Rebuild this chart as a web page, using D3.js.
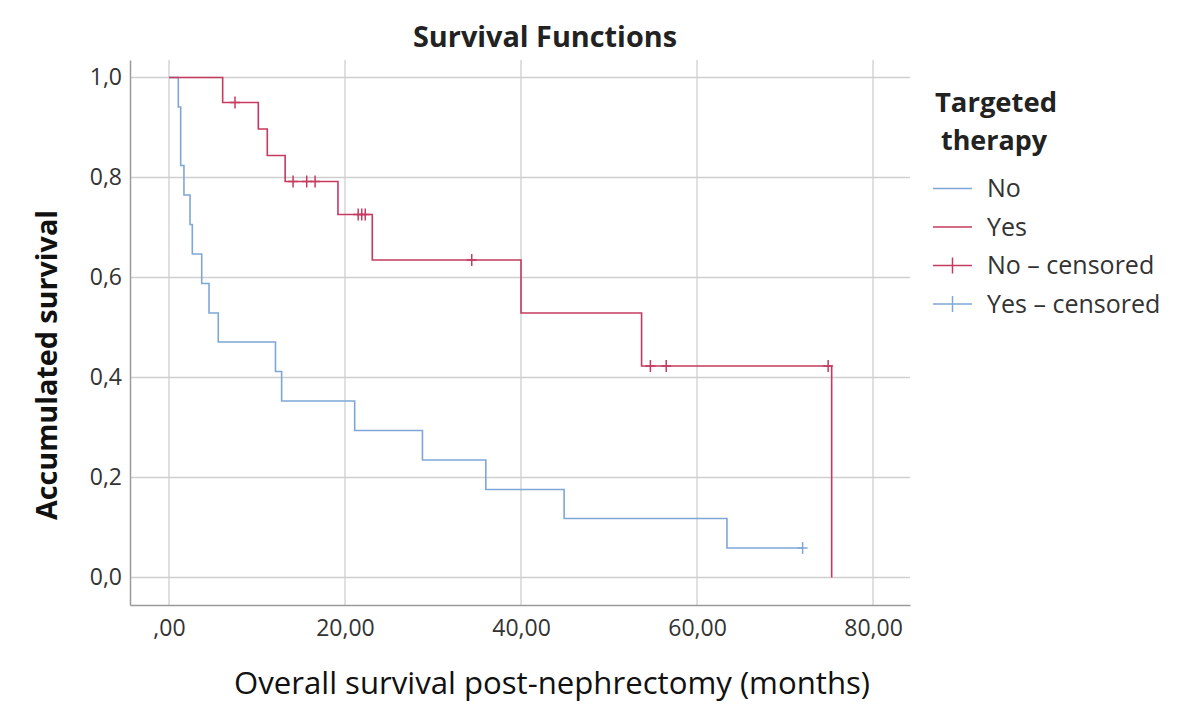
<!DOCTYPE html>
<html><head><meta charset="utf-8">
<script src="https://cdn.jsdelivr.net/npm/d3@7"></script>
<style>body{margin:0;background:#fff}text{font-family:"Open Sans",sans-serif}</style>
</head><body>
<svg id="c" width="1200" height="715"></svg>
<script>
// Step curves (time in months, cumulative survival)
const noTimes = [0, 1.06, 1.33, 1.70, 2.39, 2.65, 3.72, 4.55, 5.6, 12.1, 12.8, 21.1, 28.8, 36.0, 44.9, 63.4];
const noSurv  = [1.0, 0.941, 0.824, 0.765, 0.706, 0.647, 0.588, 0.529, 0.471, 0.412, 0.353, 0.294, 0.235, 0.176, 0.118, 0.059];
const noEnd = 72.0;
const noCensTimes = [72.0];
const noCensSurv  = [0.059];

const yesTimes = [0, 6.1, 10.15, 11.17, 13.2, 19.2, 23.1, 40.0, 53.7, 75.3];
const yesSurv  = [1.0, 0.95, 0.897, 0.844, 0.792, 0.726, 0.635, 0.529, 0.423, 0.0];
const yesEnd = 75.3;
const yesCensTimes = [7.5, 14.1, 15.65, 16.6, 21.5, 21.9, 22.3, 34.4, 54.7, 56.5, 74.9];
const yesCensSurv  = [0.95, 0.792, 0.792, 0.792, 0.726, 0.726, 0.726, 0.635, 0.423, 0.423, 0.423];

const xTicks = [0, 20, 40, 60, 80];
const xTickLabels = [",00", "20,00", "40,00", "60,00", "80,00"];
const yTicks = [0, 0.2, 0.4, 0.6, 0.8, 1.0];
const yTickLabels = ["0,0", "0,2", "0,4", "0,6", "0,8", "1,0"];
const legendLabels = ["No", "Yes", "No \u2013 censored", "Yes \u2013 censored"];

const BLUE = "#7ea6d6", RED = "#c53a5f";
const svg = d3.select("#c");
const L = 130, R = 910, T = 60, B = 605;
const x = d3.scaleLinear().domain([-4.43, 84.2]).range([L, R]);
const y = d3.scaleLinear().domain([-0.055, 1.035]).range([B, T]);

// gridlines
svg.append("g").selectAll("line").data(yTicks).join("line")
  .attr("x1", L).attr("x2", R).attr("y1", d => y(d)).attr("y2", d => y(d))
  .attr("stroke", "#cfcfcf").attr("stroke-width", 1.3);
svg.append("g").selectAll("line").data(xTicks).join("line")
  .attr("y1", T).attr("y2", B).attr("x1", d => x(d)).attr("x2", d => x(d))
  .attr("stroke", "#cfcfcf").attr("stroke-width", 1.3);

// axes
const xAxis = d3.axisBottom(x).tickValues(xTicks).tickFormat((d, i) => xTickLabels[i]).tickSize(0).tickPadding(15);
const gx = svg.append("g").attr("transform", `translate(0,${B})`).call(xAxis);
gx.select(".domain").attr("stroke", "#9a9a9a").attr("stroke-width", 1.5);
gx.selectAll("text").attr("font-size", 23).attr("fill", "#333").style("font-family", "Open Sans");
const yAxis = d3.axisLeft(y).tickValues(yTicks).tickFormat((d, i) => yTickLabels[i]).tickSize(0).tickPadding(8);
const gy = svg.append("g").attr("transform", `translate(${L},0)`).call(yAxis);
gy.select(".domain").attr("stroke", "#9a9a9a").attr("stroke-width", 1.5);
gy.selectAll("text").attr("font-size", 23).attr("fill", "#333").style("font-family", "Open Sans");

// step lines
function stepPts(times, surv, end) {
  const pts = times.map((t, i) => [t, surv[i]]);
  pts.push([end, surv[surv.length - 1]]);
  return pts;
}
const line = d3.line().x(d => x(d[0])).y(d => y(d[1])).curve(d3.curveStepAfter);
svg.append("path").datum(stepPts(noTimes, noSurv, noEnd)).attr("d", line)
  .attr("fill", "none").attr("stroke", BLUE).attr("stroke-width", 1.6);
svg.append("path").datum(stepPts(yesTimes, yesSurv, yesEnd)).attr("d", line)
  .attr("fill", "none").attr("stroke", RED).attr("stroke-width", 1.6);

function censor(times, surv, col) {
  const g = svg.append("g").attr("stroke", col).attr("stroke-width", 1.5);
  times.forEach((t, i) => {
    g.append("line").attr("x1", x(t)).attr("x2", x(t)).attr("y1", y(surv[i]) - 6).attr("y2", y(surv[i]) + 6);
    g.append("line").attr("x1", x(t) - 5).attr("x2", x(t) + 5).attr("y1", y(surv[i])).attr("y2", y(surv[i]));
  });
}
censor(yesCensTimes, yesCensSurv, RED);
censor(noCensTimes, noCensSurv, BLUE);

// title
svg.append("text").attr("x", 545).attr("y", 47).attr("text-anchor", "middle")
  .attr("font-size", 28).attr("font-weight", "bold").attr("fill", "#222")
  .attr("textLength", 264).attr("lengthAdjust", "spacingAndGlyphs").text("Survival Functions");
// axis titles
svg.append("text").attr("x", 552).attr("y", 694).attr("text-anchor", "middle")
  .attr("font-size", 31).attr("fill", "#111").attr("textLength", 636).attr("lengthAdjust", "spacingAndGlyphs")
  .text("Overall survival post-nephrectomy (months)");
svg.append("text").attr("transform", "translate(57,365) rotate(-90)").attr("text-anchor", "middle")
  .attr("font-size", 28).attr("font-weight", "bold").attr("fill", "#111")
  .attr("textLength", 310).attr("lengthAdjust", "spacingAndGlyphs")
  .text("Accumulated survival");

// legend
const lg = svg.append("g");
lg.append("text").attr("x", 935).attr("y", 112).attr("font-size", 26).attr("font-weight", "bold").attr("fill", "#222")
  .attr("textLength", 122).attr("lengthAdjust", "spacingAndGlyphs").text("Targeted");
lg.append("text").attr("x", 941).attr("y", 150).attr("font-size", 26).attr("font-weight", "bold").attr("fill", "#222")
  .attr("textLength", 106).attr("lengthAdjust", "spacingAndGlyphs").text("therapy");
const lcols = [BLUE, RED, RED, BLUE];
legendLabels.forEach((lab, i) => {
  const yy = 188.5 + i * 38.5;
  lg.append("line").attr("x1", 933).attr("x2", 972).attr("y1", yy).attr("y2", yy).attr("stroke", lcols[i]).attr("stroke-width", 1.6);
  if (i >= 2) lg.append("line").attr("x1", 952.5).attr("x2", 952.5).attr("y1", yy - 8).attr("y2", yy + 8).attr("stroke", lcols[i]).attr("stroke-width", 1.5);
  lg.append("text").attr("x", 987).attr("y", yy + 8.5).attr("font-size", 25).attr("fill", "#333").text(lab);
});
</script>
</body></html>
